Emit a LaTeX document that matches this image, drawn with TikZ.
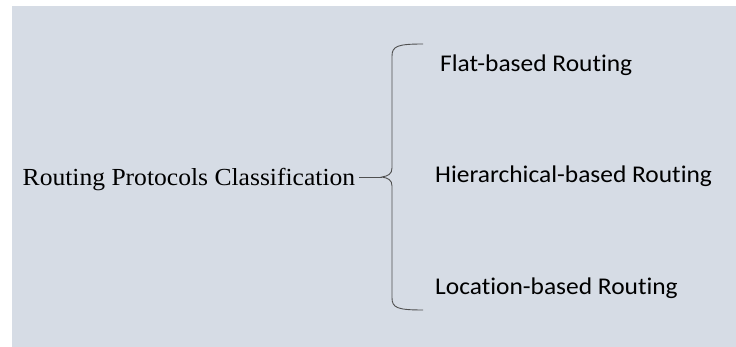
\documentclass[tikz,border=0pt]{standalone}
\usepackage{fontspec}
\setmainfont{Liberation Serif}[FakeStretch=1.044]
\newfontfamily\labelfont{Carlito}[Ligatures=NoCommon,FakeStretch=1.06]
\definecolor{panel}{HTML}{D6DCE5}
\definecolor{bracecol}{HTML}{505050}
\begin{document}
\begin{tikzpicture}[x=1pt,y=-1pt,
  rootlabel/.style={inner sep=0pt,anchor=base west,font=\fontsize{24.5}{28}\selectfont},
  leaflabel/.style={inner sep=0pt,anchor=base west,font=\labelfont\fontsize{24}{28}\selectfont},
  bracestroke/.style={draw=bracecol,line width=0.9pt}]
  % canvas and panel
  \useasboundingbox (0,0) rectangle (736,347);
  \fill[white] (0,0) rectangle (736,347);
  \fill[panel] (12,6) rectangle (736,347);

  % labels
  \node[rootlabel] (root) at (22.5,186) {Routing Protocols Classification};
  \node[leaflabel] (flat) at (440,71.7) {Flat-based Routing};
  \node[leaflabel] (hier) at (435,183) {Hierarchical-based Routing};
  \node[leaflabel] (loc) at (435,294.5) {Location-based Routing};

  % brace
  \coordinate (tip) at (382,177);
  \coordinate (btop) at (423,44);
  \coordinate (bbot) at (423,310);
  \draw[bracestroke] (btop) .. controls (398,44) and (392,46) .. (392,56)
     -- (392,168) .. controls (392,174) and (388,176) .. (tip)
     .. controls (388,178) and (392,180) .. (392,186)
     -- (392,298) .. controls (392,308) and (398,310) .. (bbot);
  \draw[bracestroke] (root.east |- tip) ++(4,0) coordinate (lead) -- (tip);
\end{tikzpicture}
\end{document}
